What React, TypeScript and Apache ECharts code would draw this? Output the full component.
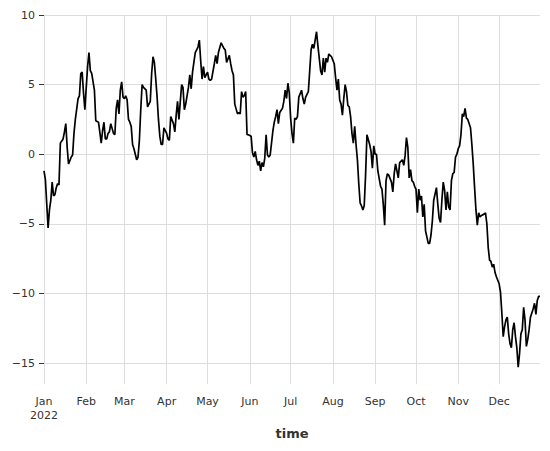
import React, { useEffect, useRef } from "react";
import * as echarts from "echarts";

// Day offsets from 2022-01-01 and the series values
const DAYS = [
  0, 1, 3, 4, 5, 6, 7, 8, 9, 10, 11, 12, 14, 15, 16, 17, 18, 20, 21, 22, 23, 25, 26, 27, 28, 29, 30,
  31, 32, 33, 34, 35, 37, 38, 40, 42, 43, 44, 45, 46, 47, 48, 49, 51, 52, 53, 54, 55, 56, 57, 58, 59,
  60, 61, 62, 63, 64, 65, 66, 68, 69, 70, 71, 72, 73, 75, 76, 77, 78, 79, 80, 81, 82, 83, 84, 85, 86,
  87, 88, 90, 91, 92, 93, 95, 96, 97, 98, 99, 101, 102, 103, 104, 106, 107, 108, 109, 110, 111, 112,
  113, 114, 115, 116, 117, 118, 120, 121, 122, 123, 125, 126, 127, 128, 130, 131, 132, 133, 134, 136,
  137, 138, 139, 140, 142, 143, 144, 145, 146, 147, 148, 149, 150, 152, 153, 154, 155, 156, 157, 158,
  159, 160, 161, 162, 163, 164, 165, 166, 168, 169, 170, 171, 172, 173, 175, 176, 177, 178, 179, 180,
  181, 182, 183, 184, 185, 186, 187, 189, 190, 191, 192, 194, 195, 196, 197, 198, 199, 200, 201, 202,
  203, 204, 205, 206, 207, 208, 209, 210, 211, 213, 214, 215, 216, 217, 218, 219, 220, 221, 222, 223,
  224, 225, 226, 227, 228, 229, 230, 231, 232, 233, 234, 235, 236, 237, 239, 240, 241, 242, 243, 244,
  245, 247, 248, 249, 250, 251, 252, 253, 255, 256, 257, 258, 259, 260, 261, 263, 264, 265, 266, 267,
  268, 269, 270, 271, 272, 273, 274, 275, 276, 277, 278, 279, 280, 282, 283, 284, 285, 286, 288, 289,
  290, 291, 292, 293, 294, 295, 296, 297, 298, 299, 300, 301, 302, 303, 304, 305, 306, 307, 308, 309,
  310, 311, 313, 314, 315, 316, 317, 318, 319, 320, 321, 323, 324, 325, 326, 327, 328, 329, 330, 331,
  332, 334, 335, 336, 337, 338, 339, 340, 341, 342, 343, 344, 345, 346, 347, 348, 349, 350, 351, 352,
  353, 354, 355, 356, 357, 359, 360, 361, 362, 363, 364,
];

const VALUES = [
  -1.2, -1.8, -5.3, -4.0, -3.3, -2.0, -3.0, -2.9, -2.4, -2.1, -2.2, 0.8, 1.1, 1.6, 2.2, 0.5, -0.7, -0.2,
  -0.05, 1.5, 2.5, 4.0, 4.2, 5.8, 5.9, 4.4, 3.2, 4.8, 6.3, 7.3, 6.0, 5.8, 4.6, 2.4, 2.3, 0.8, 1.7, 2.3,
  1.1, 1.1, 1.5, 1.6, 2.2, 1.5, 1.4, 3.3, 3.9, 2.9, 4.6, 5.2, 4.1, 4.0, 4.2, 3.9, 2.5, 2.3, 2.0, 0.7,
  0.4, -0.4, -0.2, 1.0, 3.2, 5.0, 4.8, 4.6, 3.4, 3.6, 3.8, 5.8, 7.0, 6.6, 5.4, 4.1, 2.5, 1.3, 0.7, 0.7,
  1.9, 1.5, 1.1, 1.0, 2.7, 2.2, 1.6, 2.8, 3.8, 2.5, 5.0, 4.8, 3.2, 3.6, 4.8, 5.7, 4.7, 5.9, 6.6, 7.3,
  7.5, 7.7, 8.2, 6.7, 5.4, 6.3, 5.5, 5.9, 5.4, 5.3, 5.4, 6.5, 7.1, 6.5, 7.3, 8.0, 7.8, 7.6, 7.5, 6.6,
  7.1, 6.5, 6.0, 5.7, 3.6, 2.9, 3.0, 2.9, 4.5, 4.1, 4.2, 4.5, 1.4, 1.4, 1.3, 0.1, -0.2, 0.2, -0.4,
  -0.8, -0.5, -1.2, -0.6, -0.9, -0.3, 1.4, -0.05, -0.2, -0.05, 1.7, 2.3, 2.7, 3.2, 2.2, 3.0, 3.3, 3.8,
  4.6, 4.0, 5.1, 4.4, 2.6, 1.5, 0.8, 2.6, 2.5, 2.7, 4.1, 4.6, 4.0, 3.6, 4.1, 4.5, 6.0, 7.5, 7.9, 7.6,
  8.2, 8.8, 7.8, 6.9, 6.0, 5.7, 6.9, 5.9, 6.9, 6.6, 7.2, 7.1, 7.0, 6.5, 5.5, 4.6, 5.4, 3.9, 3.6, 2.8,
  4.0, 5.0, 4.5, 3.5, 3.4, 2.7, 1.5, 0.8, 2.0, 0.7, -0.4, -2.1, -3.5, -3.7, -4.0, -3.7, -1.5, 1.4, 0.7,
  0.2, -1.0, 0.6, 0.0, 0.0, -1.2, -2.3, -2.5, -3.6, -5.1, -1.9, -1.4, -1.5, -2.0, -2.7, -1.4, -0.7,
  -1.2, -1.7, -0.6, -0.4, -0.8, -0.1, 1.2, 0.5, -1.7, -1.1, -1.9, -2.0, -2.3, -2.5, -4.2, -2.5, -3.3,
  -3.0, -4.5, -3.6, -5.5, -6.4, -6.4, -5.8, -4.8, -3.3, -2.4, -3.6, -4.6, -4.9, -3.3, -2.0, -2.6, -4.0,
  -2.7, -3.8, -4.0, -1.9, -1.4, -1.3, -0.2, 0.0, 0.4, 0.6, 1.4, 2.9, 2.7, 3.3, 2.6, 2.5, 1.9, 0.7,
  -0.7, -2.4, -4.0, -5.1, -4.2, -4.5, -4.4, -4.3, -4.2, -5.0, -6.7, -7.6, -7.7, -8.1, -7.9, -8.5, -8.8,
  -9.3, -9.9, -11.4, -13.1, -12.4, -11.9, -11.7, -12.9, -13.6, -13.9, -12.6, -12.1, -13.1, -13.9,
  -15.3, -14.3, -12.9, -12.6, -11.0, -11.9, -13.8, -13.3, -12.6, -11.7, -11.1, -10.7, -11.5, -10.5,
  -10.2, -10.2,
];

const YEAR = 2022;
const MONTH_LABELS = ["Jan", "Feb", "Mar", "Apr", "May", "Jun", "Jul", "Aug", "Sep", "Oct", "Nov", "Dec"];
const Y_TICKS = [-15, -10, -5, 0, 5, 10];
const Y_MIN = -16.5;
const Y_MAX = 10;
const X_NAME = "time";

export default function App() {
  const ref = useRef<HTMLDivElement>(null);

  useEffect(() => {
    if (!ref.current) return;
    const chart = echarts.init(ref.current, undefined, { renderer: "svg" });
    const n = Math.min(DAYS.length, VALUES.length);
    const data = DAYS.slice(0, n).map((d, i) => [new Date(YEAR, 0, 1 + d).getTime(), VALUES[i]]);
    const monthStarts = MONTH_LABELS.map((_, m) => new Date(YEAR, m, 1).getTime());
    const font = "DejaVu Sans";

    chart.setOption({
      animation: false,
      backgroundColor: "#ffffff",
      grid: { left: 44, right: 10, top: 15, bottom: 67, containLabel: false },
      xAxis: {
        type: "value",
        min: new Date(YEAR, 0, 1).getTime(),
        max: new Date(YEAR, 11, 31).getTime(),
        name: X_NAME,
        nameLocation: "middle",
        nameGap: 43,
        nameTextStyle: { fontFamily: font, fontSize: 13, fontWeight: "bold", color: "#333" },
        axisLine: { show: false },
        axisTick: { show: false, customValues: monthStarts },
        axisLabel: {
          customValues: monthStarts,
          fontFamily: font,
          fontSize: 11,
          color: "#333",
          margin: 10,
          lineHeight: 14,
          hideOverlap: false,
          formatter: (v: number) => {
            const d = new Date(v);
            const m = d.getMonth();
            return m === 0 ? `${MONTH_LABELS[m]}\n${d.getFullYear()}` : MONTH_LABELS[m];
          },
        },
        splitLine: { show: true, lineStyle: { color: "#dddddd", width: 1 } },
      },
      yAxis: {
        type: "value",
        min: Y_MIN,
        max: Y_MAX,
        axisLine: { show: false },
        axisTick: { show: true, length: 5, customValues: Y_TICKS, lineStyle: { color: "#333", width: 1 } },
        axisLabel: {
          customValues: Y_TICKS,
          fontFamily: font,
          fontSize: 11,
          color: "#333",
          margin: 9,
          formatter: (v: number) => (v < 0 ? "\u2212" + Math.abs(v) : String(v)),
        },
        splitLine: { show: true, lineStyle: { color: "#dddddd", width: 1 } },
      },
      series: [
        {
          type: "line",
          data,
          showSymbol: false,
          lineStyle: { color: "#000000", width: 1.7 },
          itemStyle: { color: "#000000" },
        },
      ],
    });

    return () => chart.dispose();
  }, []);

  return (
    <div
      ref={ref}
      style={{ position: "fixed", left: 0, top: 0, width: 550, height: 451, background: "#fff" }}
    />
  );
}
